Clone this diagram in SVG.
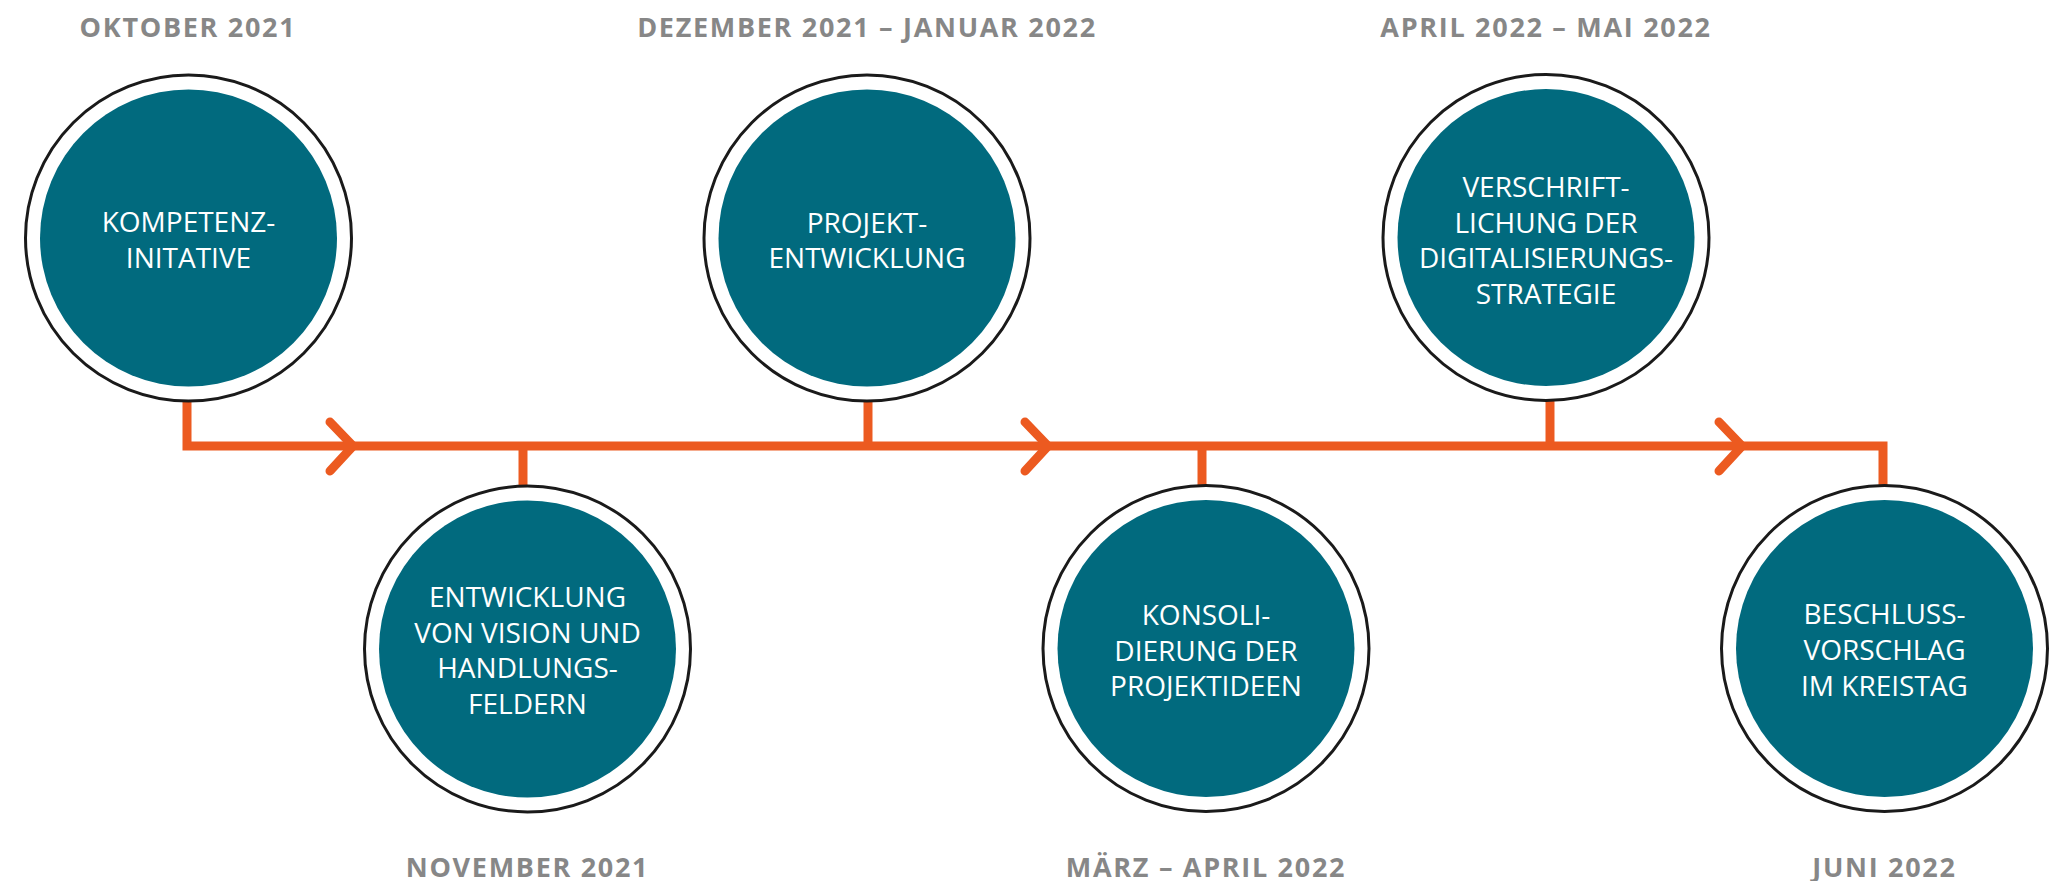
<svg xmlns="http://www.w3.org/2000/svg" width="2059" height="881" viewBox="0 0 2059 881">
  <style>
    .ring { fill: #ffffff; stroke: #1a1a1a; stroke-width: 3; }
    .core { fill: #016a7e; }
    .label { font-family: "Open Sans", "Noto Sans", "Liberation Sans", sans-serif; font-size: 28px; font-weight: 500; fill: #ffffff; text-anchor: middle; }
    .date { font-family: "Open Sans", "Noto Sans", "Liberation Sans", sans-serif; font-size: 27px; font-weight: 700; fill: #878787; text-anchor: middle; letter-spacing: 1.7px; }
    .line { fill: none; stroke: #ec5a20; stroke-width: 9; stroke-linejoin: miter; }
    .chev { fill: none; stroke: #ec5a20; stroke-width: 9; stroke-linecap: round; stroke-linejoin: miter; }
  </style>
  <rect width="2059" height="881" fill="#ffffff"/>

  <!-- timeline spine, stems and direction chevrons -->
  <g id="connectors">
    <path class="line" d="M187,400 V446 H1883 V486"/>
    <path class="line" d="M523,446 V487"/>
    <path class="line" d="M868,401 V446"/>
    <path class="line" d="M1202,446 V486"/>
    <path class="line" d="M1550,400 V446"/>
    <path class="chev" d="M330,422 L353,446 L330,471"/>
    <path class="chev" d="M1025,422 L1048,446 L1025,471"/>
    <path class="chev" d="M1719,422 L1742,446 L1719,471"/>
  </g>

  <g id="step-1">
    <text class="date" x="188" y="37">OKTOBER 2021</text>
    <circle class="ring" cx="188.5" cy="238" r="163"/>
    <circle class="core" cx="188.5" cy="238" r="148.5"/>
    <text class="label" x="188.5" y="232">KOMPETENZ-</text>
    <text class="label" x="188.5" y="267.5">INITATIVE</text>
  </g>

  <g id="step-2">
    <circle class="ring" cx="527.5" cy="649" r="163"/>
    <circle class="core" cx="527.5" cy="649" r="148.5"/>
    <text class="label" x="527.5" y="607">ENTWICKLUNG</text>
    <text class="label" x="527.5" y="642.5">VON VISION UND</text>
    <text class="label" x="527.5" y="678">HANDLUNGS-</text>
    <text class="label" x="527.5" y="713.5">FELDERN</text>
    <text class="date" x="527.5" y="877">NOVEMBER 2021</text>
  </g>

  <g id="step-3">
    <text class="date" x="867" y="37">DEZEMBER 2021 – JANUAR 2022</text>
    <circle class="ring" cx="867" cy="238" r="163"/>
    <circle class="core" cx="867" cy="238" r="148.5"/>
    <text class="label" x="867" y="232.5">PROJEKT-</text>
    <text class="label" x="867" y="268">ENTWICKLUNG</text>
  </g>

  <g id="step-4">
    <circle class="ring" cx="1206" cy="648.5" r="163"/>
    <circle class="core" cx="1206" cy="648.5" r="148.5"/>
    <text class="label" x="1206" y="625">KONSOLI-</text>
    <text class="label" x="1206" y="660.5">DIERUNG DER</text>
    <text class="label" x="1206" y="696">PROJEKTIDEEN</text>
    <text class="date" x="1206" y="877">MÄRZ – APRIL 2022</text>
  </g>

  <g id="step-5">
    <text class="date" x="1546" y="37">APRIL 2022 – MAI 2022</text>
    <circle class="ring" cx="1546" cy="237.5" r="163"/>
    <circle class="core" cx="1546" cy="237.5" r="148.5"/>
    <text class="label" x="1546" y="197">VERSCHRIFT-</text>
    <text class="label" x="1546" y="232.5">LICHUNG DER</text>
    <text class="label" x="1546" y="268">DIGITALISIERUNGS-</text>
    <text class="label" x="1546" y="303.5">STRATEGIE</text>
  </g>

  <g id="step-6">
    <circle class="ring" cx="1884.5" cy="648.5" r="163"/>
    <circle class="core" cx="1884.5" cy="648.5" r="148.5"/>
    <text class="label" x="1884.5" y="624">BESCHLUSS-</text>
    <text class="label" x="1884.5" y="660">VORSCHLAG</text>
    <text class="label" x="1884.5" y="696">IM KREISTAG</text>
    <text class="date" x="1884.5" y="877">JUNI 2022</text>
  </g>
</svg>
